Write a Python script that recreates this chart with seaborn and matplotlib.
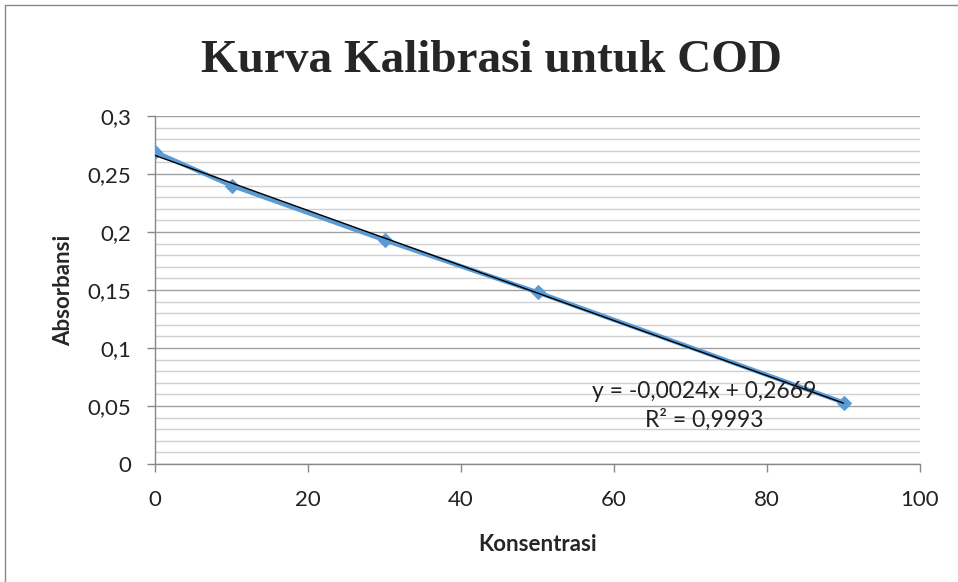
import numpy as np
import pandas as pd
import matplotlib
matplotlib.use("Agg")
import matplotlib.pyplot as plt
import seaborn as sns
from matplotlib.ticker import MultipleLocator, FuncFormatter
from matplotlib.lines import Line2D

# Data
konsentrasi = [0, 10, 30, 50, 90]
absorbansi = [0.269, 0.240, 0.193, 0.148, 0.053]
title = "Kurva Kalibrasi untuk COD"
eq_text = "y = -0,0024x + 0,2669\nR² = 0,9993"

df = pd.DataFrame({"Konsentrasi": konsentrasi, "Absorbansi": absorbansi})

sns.set_style("white")
plt.rcParams["font.family"] = ["Lato", "DejaVu Sans"]

fig = plt.figure(figsize=(9.58, 5.82), dpi=100)
ax = fig.add_axes([155 / 958, 1 - 464 / 582, (920 - 155) / 958, (464 - 116) / 582])

# data series
sns.lineplot(data=df, x="Konsentrasi", y="Absorbansi", ax=ax, color="#5B9BD5",
             linewidth=3.2, marker="D", markersize=7, markeredgecolor="#5B9BD5", zorder=3)

# linear trendline
m, b = np.polyfit(konsentrasi, absorbansi, 1)
xs = np.array([min(konsentrasi), max(konsentrasi)])
ax.plot(xs, m * xs + b, color="black", linewidth=1, zorder=4)

ax.set_xlim(0, 100)
ax.set_ylim(0, 0.3)
ax.xaxis.set_major_locator(MultipleLocator(20))
ax.yaxis.set_major_locator(MultipleLocator(0.05))
ax.yaxis.set_minor_locator(MultipleLocator(0.01))

fmt = FuncFormatter(lambda v, p: ("%g" % round(v, 3)).replace(".", ","))
ax.yaxis.set_major_formatter(fmt)
ax.xaxis.set_major_formatter(FuncFormatter(lambda v, p: "%d" % v))

ax.grid(which="major", axis="y", color="#A0A0A0", linewidth=1)
ax.grid(which="minor", axis="y", color="#D0D0D0", linewidth=1)
ax.grid(which="both", axis="x", visible=False)
ax.set_axisbelow(True)

for s in ["top", "right"]:
    ax.spines[s].set_visible(False)
for s in ["left", "bottom"]:
    ax.spines[s].set_color("#888888")
    ax.spines[s].set_linewidth(1)

ax.tick_params(axis="both", which="major", direction="out", length=6, width=1,
               color="#888888", labelsize=16, labelcolor="#222222")
ax.tick_params(axis="y", which="minor", length=0)
ax.tick_params(axis="x", pad=13)
ax.tick_params(axis="y", pad=11)
ax.tick_params(bottom=True, left=True)

ax.set_xlabel("Konsentrasi", fontsize=16, fontweight="bold", labelpad=17)
ax.set_ylabel("Absorbansi", fontsize=16, fontweight="bold", labelpad=10)

ax.text(71.8, 0.050, eq_text, ha="center", va="center", fontsize=16.5,
        color="#222222", linespacing=1.35, zorder=5)

fig.text(491 / 958, 1 - 61 / 582, title, ha="center", va="center",
         fontsize=34, fontweight="bold", family=["Liberation Serif"])

# chart border (left and top edges visible)
fig.add_artist(Line2D([5 / 958, 5 / 958], [0, 1 - 5 / 582], transform=fig.transFigure,
                      color="#888888", linewidth=1))
fig.add_artist(Line2D([5 / 958, 1], [1 - 5 / 582, 1 - 5 / 582], transform=fig.transFigure,
                      color="#888888", linewidth=1))

fig.savefig("out.png", dpi=100)
